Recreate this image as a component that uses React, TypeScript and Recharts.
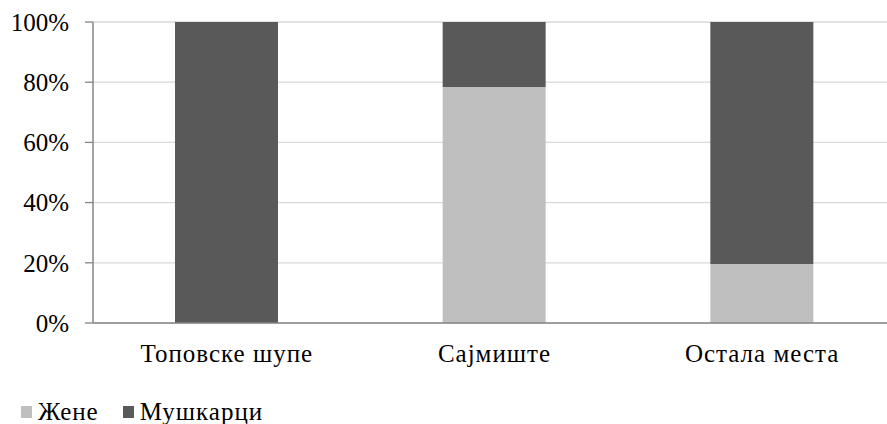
import React from "react"
import {
  BarChart,
  Bar,
  XAxis,
  YAxis,
  CartesianGrid,
  Legend,
} from "recharts"

const categories = ["Топовске шупе", "Сајмиште", "Остала места"]
const zene = [0, 78.4, 19.6]
const muskarci = [100, 21.6, 80.4]
const yTicks = [0, 20, 40, 60, 80, 100]

const series = [
  { key: "zene", name: "Жене", color: "#bfbfbf" },
  { key: "muskarci", name: "Мушкарци", color: "#595959" },
]

const data = categories.map((name, i) => ({
  name,
  zene: zene[i],
  muskarci: muskarci[i],
}))

const FONT = "'Liberation Serif', 'Times New Roman', serif"
const AXIS = "#868686"

function LegendContent() {
  return (
    <div style={{ display: "flex", alignItems: "center", fontFamily: FONT, fontSize: 25, lineHeight: "28px", letterSpacing: 1, color: "#000", whiteSpace: "nowrap" }}>
      {series.map((s) => (
        <div key={s.key} style={{ display: "flex", alignItems: "center", marginRight: 24 }}>
          <span style={{ display: "inline-block", width: 11, height: 12, background: s.color, marginRight: 6 }} />
          <span>{s.name}</span>
        </div>
      ))}
    </div>
  )
}

export default function App() {
  return (
    <div style={{ position: "absolute", left: 0, top: 0, width: 887, height: 424, overflow: "hidden", background: "#fff", fontFamily: FONT }}>
      <BarChart
        width={896}
        height={424}
        data={data}
        margin={{ top: 22, right: 0, left: 0, bottom: 61 }}
        barSize={103}
      >
        <CartesianGrid vertical={false} stroke="#d9d9d9" strokeWidth={1.3} />
        <XAxis
          xAxisId="bounds"
          type="number"
          domain={[0, 3]}
          ticks={[0, 1, 2, 3]}
          height={0}
          tickSize={8}
          tickFormatter={() => ""}
          axisLine={false}
          tickLine={{ stroke: AXIS, strokeWidth: 1.3 }}
        />
        <XAxis
          dataKey="name"
          height={40}
          tickLine={false}
          tickSize={0}
          tickMargin={21}
          axisLine={{ stroke: AXIS, strokeWidth: 1.5 }}
          tick={{ fontSize: 25, fill: "#000", fontFamily: FONT, letterSpacing: 1 }}
          interval={0}
        />
        <YAxis
          width={93}
          domain={[0, 100]}
          ticks={yTicks}
          tickFormatter={(v) => `${v}%`}
          tickSize={8}
          tickMargin={16}
          axisLine={{ stroke: AXIS, strokeWidth: 1.5 }}
          tickLine={{ stroke: AXIS, strokeWidth: 1.3 }}
          tick={{ fontSize: 25, fill: "#000", fontFamily: FONT }}
        />
        <Legend
          layout="vertical"
          verticalAlign="middle"
          align="center"
          content={<LegendContent />}
          wrapperStyle={{ left: 21, top: 398, width: 400, height: 28 }}
        />
        {series.map((s) => (
          <Bar
            key={s.key}
            dataKey={s.key}
            name={s.name}
            stackId="a"
            fill={s.color}
            isAnimationActive={false}
          />
        ))}
      </BarChart>
    </div>
  )
}
